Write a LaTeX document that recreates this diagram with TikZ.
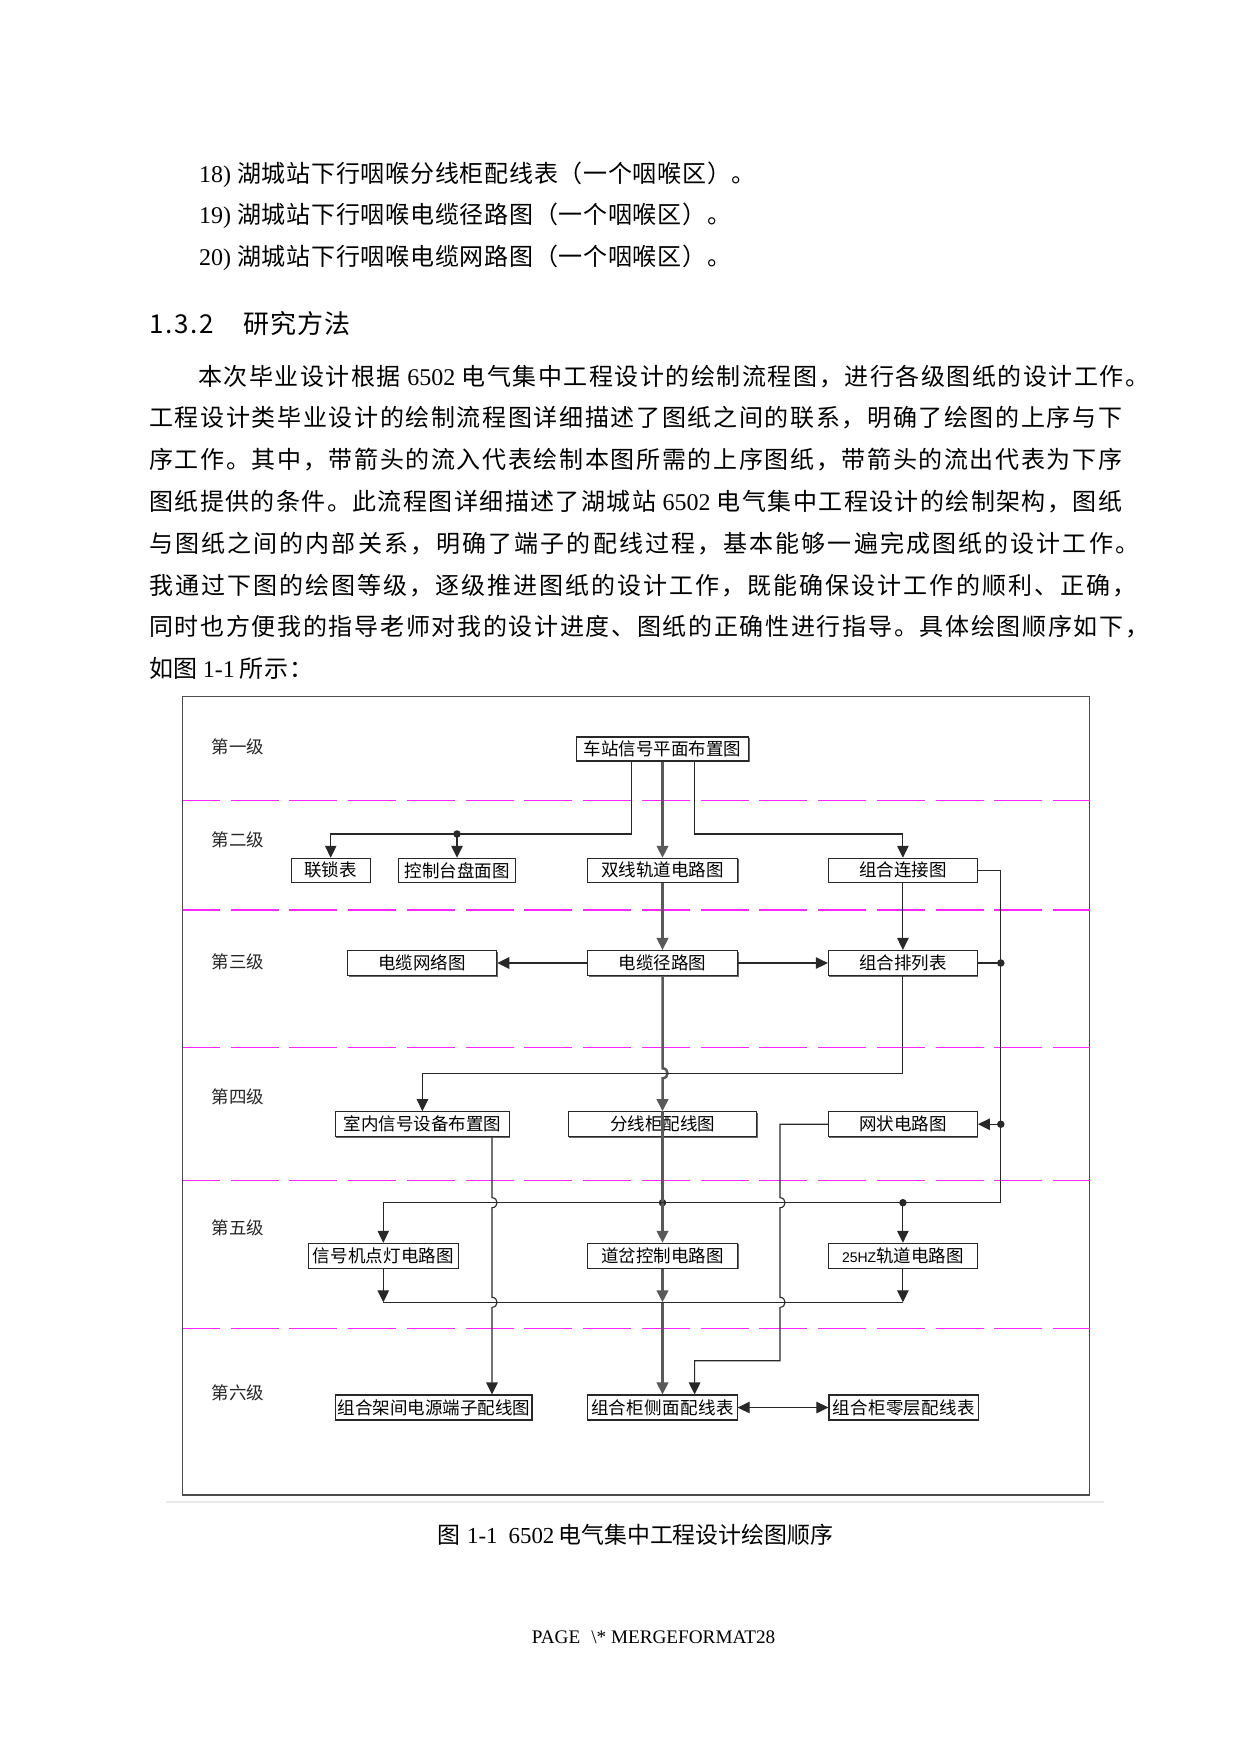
\documentclass[tikz,border=0pt]{standalone}
\usepackage{fontspec}
\setmainfont{Liberation Serif}
\newfontfamily\cjk{Noto Sans CJK SC}
\newfontfamily\hzf{Liberation Sans}
\usetikzlibrary{arrows.meta,shadows}
\definecolor{mag}{RGB}{250,40,250}
\definecolor{ink}{RGB}{40,40,40}
\ExplSyntaxOn
\NewDocumentCommand\jline{mm}{\makebox[#1][s]{\tl_map_inline:nn{#2}{##1\hfil}\unskip}}
\ExplSyntaxOff
\newcommand\fs[1]{\fontsize{#1}{#1}\selectfont}
\begin{document}
\begin{tikzpicture}[x=1pt,y=-1pt,
  bx/.style={draw=ink, line width=1.1pt, fill=white, inner sep=0pt, minimum height=25pt,
    font=\cjk\fs{17.5}, drop shadow={shadow xshift=1pt, shadow yshift=-1pt, fill=black!60, opacity=1}},
  lvl/.style={anchor=west, inner sep=0pt, font=\cjk\fs{17.5}, text=black!85},
  ln/.style={draw=ink, line width=1.1pt},
  sp/.style={draw=black!65, line width=2.5pt},
  arr/.style={-{Triangle[width=11.5pt,length=12pt]}},
  dot/.style={circle, fill=ink, inner sep=0pt, minimum size=7.5pt},
  magline/.style={draw=mag, line width=1.3pt, dash pattern=on 48pt off 10.75pt, dash phase=10.85pt},
  body/.style={anchor=base west, inner sep=0pt, font=\cjk\fs{24}}]
\useasboundingbox (0,0) rectangle (1240,1754);
\fill[white] (0,0) rectangle (1240,1754);

% ---- text above the figure
\node[body, font=\fs{24}] (n18) at (199,182) {18)};
\node[body] (t18) at (237,182) {\jline{518.7pt}{湖城站下行咽喉分线柜配线表（一个咽喉区）。}};
\node[body, font=\fs{24}] (n19) at (199,223.5) {19)};
\node[body] (t19) at (237,223.5) {\jline{494pt}{湖城站下行咽喉电缆径路图（一个咽喉区）。}};
\node[body, font=\fs{24}] (n20) at (199,265) {20)};
\node[body] (t20) at (237,265) {\jline{494pt}{湖城站下行咽喉电缆网路图（一个咽喉区）。}};

\node[body, font=\cjk\fs{26}] (h1) at (149,333) {\jline{65pt}{1.3.2}};
\node[body, font=\cjk\fs{26}] (h2) at (243,333) {\jline{107pt}{研究方法}};

\node[body] (p1) at (198,385) {\jline{951pt}{本次毕业设计根据{{\hspace{5pt}\rmfamily 6502\hspace{5pt}}}电气集中工程设计的绘制流程图，进行各级图纸的设计工作。}};
\node[body] (p2) at (149,426.8) {\jline{973pt}{工程设计类毕业设计的绘制流程图详细描述了图纸之间的联系，明确了绘图的上序与下}};
\node[body] (p3) at (149,468.6) {\jline{973pt}{序工作。其中，带箭头的流入代表绘制本图所需的上序图纸，带箭头的流出代表为下序}};
\node[body] (p4) at (149,510.4) {\jline{973pt}{图纸提供的条件。此流程图详细描述了湖城站{{\hspace{5pt}\rmfamily 6502\hspace{5pt}}}电气集中工程设计的绘制架构，图纸}};
\node[body] (p5) at (149,552.2) {\jline{990pt}{与图纸之间的内部关系，明确了端子的配线过程，基本能够一遍完成图纸的设计工作。}};
\node[body] (p6) at (149,594) {\jline{987pt}{我通过下图的绘图等级，逐级推进图纸的设计工作，既能确保设计工作的顺利、正确，}};
\node[body] (p7) at (149,635.8) {\jline{1000pt}{同时也方便我的指导老师对我的设计进度、图纸的正确性进行指导。具体绘图顺序如下，}};
\node[body] (p8) at (149,677.6) {\jline{164pt}{如图{{\hspace{4pt}\rmfamily 1-1\hspace{4pt}}}所示：}};

% ---- frame and level separators
\draw[line width=2pt, draw=black!8] (166,1502.3) -- (1104,1502.3);
\draw[line width=1.3pt, draw=black!70] (182.6,696.7) rectangle (1089.7,1495);
\foreach \yy in {800.3,910,1047.3,1180.7,1328.7}
  \draw[magline] (182.6,\yy) -- (1089.7,\yy);

% ---- level labels
\node[lvl] (l1) at (211.3,746.7) {第一级};
\node[lvl] (l2) at (211.3,840) {第二级};
\node[lvl] (l3) at (211.3,961.7) {第三级};
\node[lvl] (l4) at (211.3,1096.7) {第四级};
\node[lvl] (l5) at (211.3,1228.3) {第五级};
\node[lvl] (l6) at (211.3,1393.3) {第六级};

% ---- boxes
\node[bx, minimum width=172pt, minimum height=24pt] (top) at (662.5,749) {车站信号平面布置图};

\node[bx, minimum width=79.3pt, minimum height=24pt] (lsb) at (330.7,870.3) {联锁表};
\node[bx, minimum width=116.8pt, minimum height=24pt] (kzt) at (457,870.3) {控制台盘面图};
\node[bx, minimum width=150pt, minimum height=24pt] (sxg) at (662.5,870.3) {双线轨道电路图};
\node[bx, minimum width=149pt, minimum height=24pt] (zlj) at (902.9,870.3) {组合连接图};

\node[bx, minimum width=149pt] (dlw) at (422.2,963) {电缆网络图};
\node[bx, minimum width=150pt] (dlj) at (662.5,963) {电缆径路图};
\node[bx, minimum width=149pt] (zpl) at (902.9,963) {组合排列表};

\node[bx, minimum width=174pt] (snx) at (422.4,1124.2) {室内信号设备布置图};
\node[bx, minimum width=188.3pt] (fxg) at (662.5,1124.2) {分线柜配线图};
\node[bx, minimum width=149pt] (wzd) at (902.9,1124.2) {网状电路图};

\node[bx, minimum width=150.2pt] (xhj) at (383.3,1255.8) {\jline{141pt}{信号机点灯电路图}};
\node[bx, minimum width=150pt] (dck) at (662.5,1255.8) {道岔控制电路图};
\node[bx, minimum width=149pt] (hz) at (902.9,1255.8) {{\hzf\fs{14}25HZ}轨道电路图};

\node[bx, minimum width=196.6pt] (zjj) at (433.7,1407.5) {\jline{192pt}{组合架间电源端子配线图}};
\node[bx, minimum width=149.2pt] (zcm) at (662.5,1407.5) {\jline{143pt}{组合柜侧面配线表}};
\node[bx, minimum width=149.5pt] (zcl) at (903.7,1407.5) {\jline{142pt}{组合柜零层配线表}};

% ---- junction dots
\node[dot] (d1) at (457,834) {};
\node[dot] (d2) at (1000.8,963) {};
\node[dot] (d4) at (1000.8,1124.2) {};
\node[dot] (d3) at (662.5,1202.7) {};
\node[dot] (d5) at (902.9,1202.7) {};
\coordinate (bj) at (662.5,1302.3);

% ---- spine (thick)
\draw[sp,arr] (top.south) -- (sxg.north);
\draw[sp,arr] (sxg.south) -- (dlj.north);
\draw[sp,arr] (dlj.south) -- (662.5,1068.3) .. controls (669.2,1068.3) and (669.2,1078.3) .. (662.5,1078.3) -- (fxg.north);
\draw[sp] (fxg.north) -- (fxg.south);
\draw[sp,arr] (fxg.south) -- (dck.north);
\draw[sp,arr] (dck.south) -- (bj);
\draw[sp,arr] (bj) -- (zcm.north);

% ---- thin connectors
\draw[ln,arr] ([xshift=-30.9pt]top.south) -- (631.6,834) -| (lsb.north);
\draw[ln,arr] (d1.center) -- (kzt.north);
\draw[ln,arr] ([xshift=31.9pt]top.south) -- (694.4,834) -| (zlj.north);
\draw[ln,arr] (zlj.south) -- (zpl.north);
\draw[ln,arr] (dlj.west) -- (dlw.east);
\draw[ln,arr] (dlj.east) -- (zpl.west);
\draw[ln] (zpl.east) -- (d2.center);
\draw[ln,arr] (zlj.east) -- (1000.8,870.3) -- (1000.8,1202.7) -| (xhj.north);
\draw[ln,arr] (d4.center) -- (wzd.east);
\draw[ln,arr] (d5.center) -- (hz.north);
\draw[ln,arr] (zpl.south) -- (902.9,1073.3) -- (422.4,1073.3) -- (snx.north);
\draw[ln,arr] ([xshift=69.6pt]snx.south) -- (492,1197.7) .. controls (498.7,1197.7) and (498.7,1207.7) .. (492,1207.7)
   -- (492,1297.3) .. controls (498.7,1297.3) and (498.7,1307.3) .. (492,1307.3) -- ([xshift=58.3pt]zjj.north);
\draw[ln,arr] (wzd.west) -- (780,1124.2) -- (780,1197.7) .. controls (786.7,1197.7) and (786.7,1207.7) .. (780,1207.7)
   -- (780,1297.3) .. controls (786.7,1297.3) and (786.7,1307.3) .. (780,1307.3) -- (780,1360.7) -- (694.6,1360.7) -- ([xshift=32.1pt]zcm.north);
\draw[ln,arr] (xhj.south) -- (383.3,1302.3);
\draw[ln,arr] (hz.south) -- (902.9,1302.3);
\draw[ln] (383.3,1302.3) -- (902.9,1302.3);
\draw[ln,{Triangle[width=11.5pt,length=12pt]}-{Triangle[width=11.5pt,length=12pt]}] (zcm.east) -- (zcl.west);

% ---- caption and footer
\node[anchor=base west, inner sep=0pt, font=\fs{22.9}] (cap) at (437.5,1543.7)
  {{\cjk 图}\hspace{6.5pt}1-1\hspace{11pt}6502\hspace{4pt}{\cjk 电气集中工程设计绘图顺序}};
\node[anchor=base west, inner sep=0pt, font=\fs{19.2}] (foot) at (531.7,1643)
  {PAGE\hspace{11pt}\textbackslash* MERGEFORMAT28};
\end{tikzpicture}
\end{document}
